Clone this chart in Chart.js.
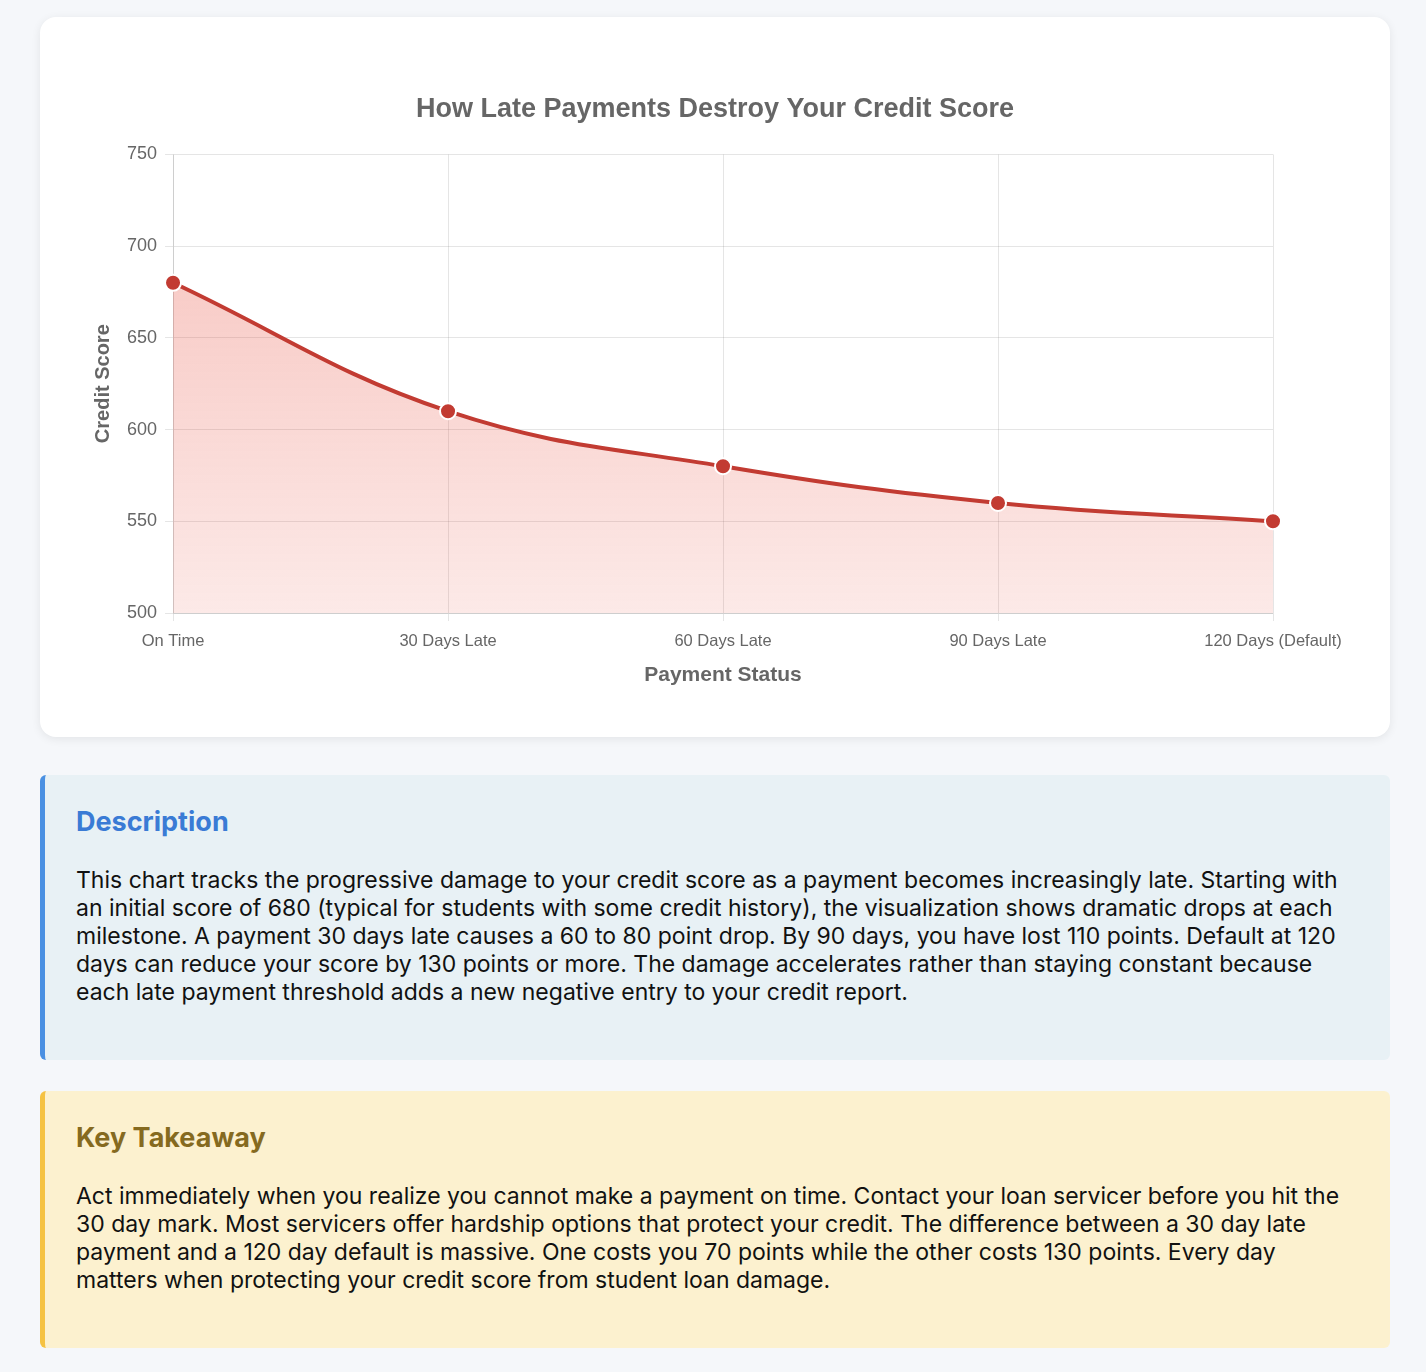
<!DOCTYPE html>
<html>
<head>
<meta charset="utf-8">
<script src="https://cdn.jsdelivr.net/npm/chart.js@4.4.0/dist/chart.umd.min.js"></script>
<style>
	body {
		margin: 0;
		padding: 17px 36px 20px 40px;
		background: #f5f7fa;
		font-family: Inter, "Noto Sans", sans-serif;
	}
	.card {
		background: #fff;
		border-radius: 16px;
		box-shadow: 0 2px 10px rgba(0,0,0,0.08);
		padding: 30px;
		margin-bottom: 38px;
	}
	.chart-wrap {
		position: relative;
		height: 660px;
	}
	.box {
		border-radius: 6px;
		padding: 31px 33px 54px 31px;
		margin-bottom: 31px;
	}
	.box h3 {
		margin: 0 0 28px 0;
		font-size: 27px;
		line-height: 32px;
		font-weight: 700;
	}
	.box p {
		margin: 0;
		font-size: 23px;
		line-height: 28px;
		color: #111;
	}
	.desc {
		background: #e8f1f5;
		border-left: 5px solid #4a90e2;
	}
	.desc h3 { color: #3a7bd5; }
	.take {
		background: #fcf1cf;
		border-left: 5px solid #f5c242;
	}
	.take h3 { color: #856a1f; }
</style>
</head>
<body>

<div class="card">
	<div class="chart-wrap"><canvas id="myChart"></canvas></div>
</div>

<div class="box desc">
	<h3>Description</h3>
	<p>This chart tracks the progressive damage to your credit score as a payment becomes increasingly late. Starting with an initial score of 680 (typical for students with some credit history), the visualization shows dramatic drops at each milestone. A payment 30 days late causes a 60 to 80 point drop. By 90 days, you have lost 110 points. Default at 120 days can reduce your score by 130 points or more. The damage accelerates rather than staying constant because each late payment threshold adds a new negative entry to your credit report.</p>
</div>

<div class="box take">
	<h3>Key Takeaway</h3>
	<p>Act immediately when you realize you cannot make a payment on time. Contact your loan servicer before you hit the 30 day mark. Most servicers offer hardship options that protect your credit. The difference between a 30 day late payment and a 120 day default is massive. One costs you 70 points while the other costs 130 points. Every day matters when protecting your credit score from student loan damage.</p>
</div>

<script>
var labels = ["On Time", "30 Days Late", "60 Days Late", "90 Days Late", "120 Days (Default)"];
var scores = [680, 610, 580, 560, 550];
var yTicks = [500, 550, 600, 650, 700, 750];

var ctx = document.getElementById("myChart").getContext("2d");
var font = "'Liberation Sans', Arial, Helvetica, sans-serif";

var myChart = new Chart(ctx, {
	type: 'line',
	data: {
		labels: labels,
		datasets: [{
			label: "Credit Score",
			data: scores,
			borderColor: "#c23b32",
			borderWidth: 4,
			tension: 0.4,
			fill: true,
			backgroundColor: function(context) {
				var area = context.chart.chartArea;
				if (!area) return "rgba(231,76,60,0.25)";
				var g = context.chart.ctx.createLinearGradient(0, area.top, 0, area.bottom);
				g.addColorStop(0, "rgba(231,76,60,0.35)");
				g.addColorStop(1, "rgba(231,76,60,0.12)");
				return g;
			},
			pointRadius: 8,
			pointHoverRadius: 9,
			pointBackgroundColor: "#c23b32",
			pointBorderColor: "#fff",
			pointBorderWidth: 2
		}]
	},
	options: {
		responsive: true,
		maintainAspectRatio: false,
		animation: false,
		layout: { padding: { left: 17, right: 17, top: 20, bottom: 15 } },
		plugins: {
			legend: { display: false },
			title: {
				display: true,
				text: "How Late Payments Destroy Your Credit Score",
				color: "#666",
				font: { family: font, size: 27, weight: "bold" },
				padding: { top: 26, bottom: 29 }
			}
		},
		scales: {
			y: {
				min: 500,
				max: 750,
				afterBuildTicks: function(axis) {
					axis.ticks = yTicks.map(function(v) { return { value: v }; });
				},
				ticks: {
					color: "#666",
					font: { family: font, size: 18 },
					padding: 8
				},
				grid: { color: "rgba(0,0,0,0.1)" },
				title: {
					display: true,
					text: "Credit Score",
					color: "#666",
					font: { family: font, size: 20, weight: "bold" }
				}
			},
			x: {
				afterFit: function(axis) {
					// room on the right so the last label sits inside like the original
					axis.paddingRight = 87;
				},
				ticks: {
					color: "#666",
					font: { family: font, size: 16.5 },
					padding: 11,
					maxRotation: 0
				},
				grid: { color: "rgba(0,0,0,0.1)" },
				title: {
					display: true,
					text: "Payment Status",
					color: "#666",
					font: { family: font, size: 21, weight: "bold" },
					padding: { top: 0, bottom: 4 }
				}
			}
		}
	}
});
</script>
</body>
</html>
